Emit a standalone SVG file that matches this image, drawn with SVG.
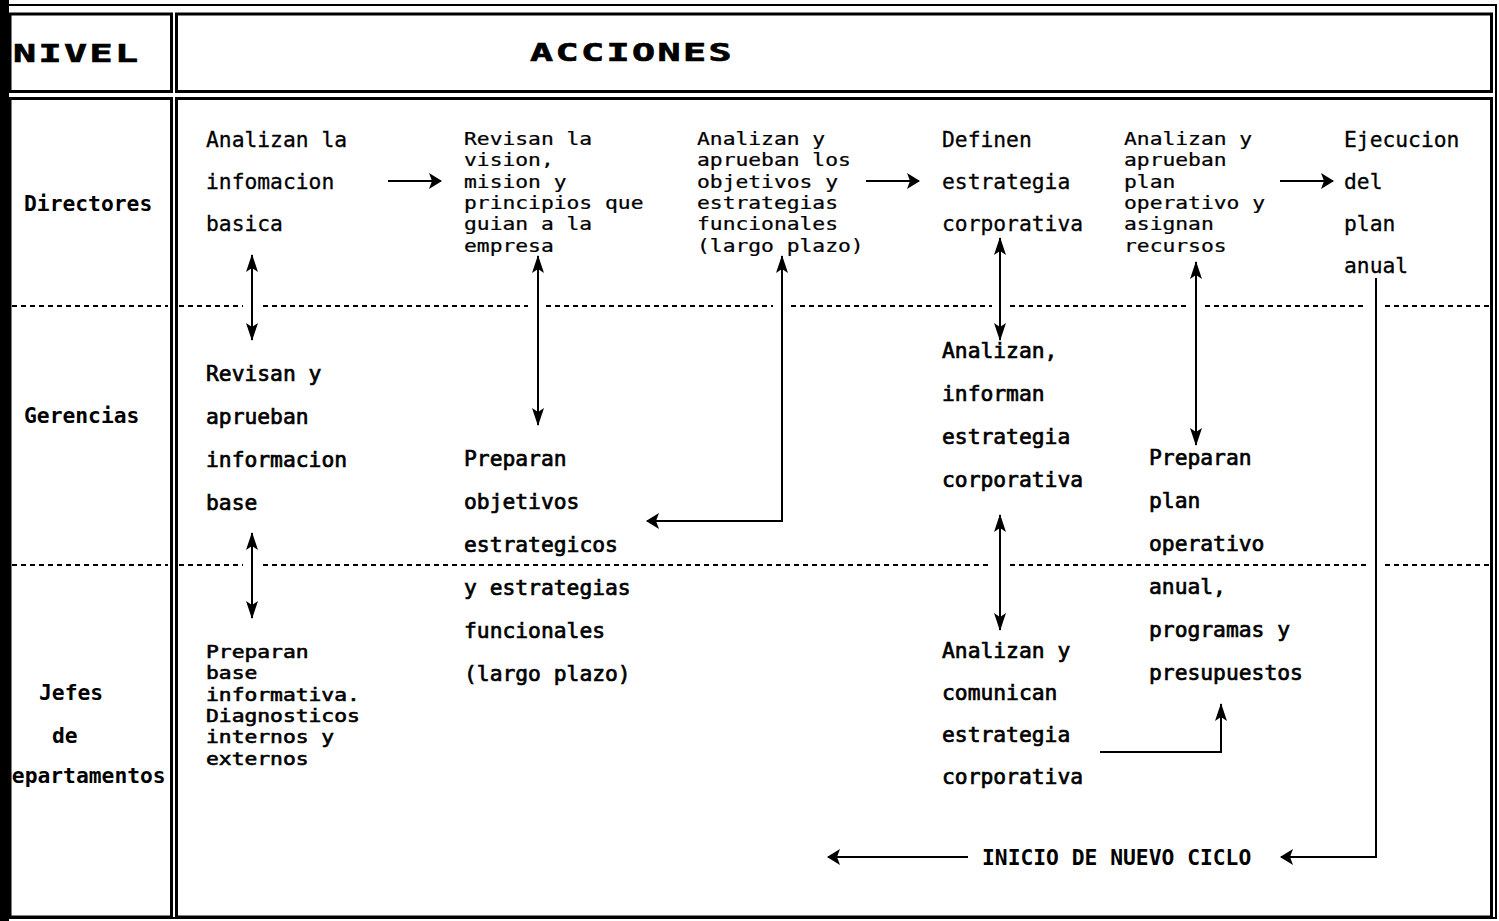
<svg xmlns="http://www.w3.org/2000/svg" width="1499" height="921" viewBox="0 0 1499 921">
<style>
.frame{fill:none;stroke:#000;stroke-width:3}
.thin{fill:none;stroke:#000;stroke-width:2}
.dash{fill:none;stroke:#000;stroke-width:2;stroke-dasharray:5 4}
.t{font-family:"DejaVu Sans Mono","Liberation Mono",monospace;font-size:21.3px;fill:#000;stroke:#000;stroke-width:0.3}
.m{font-family:"DejaVu Sans Mono","Liberation Mono",monospace;font-size:21.3px;fill:#000;stroke:#000;stroke-width:0.7}
.b{font-family:"DejaVu Sans Mono","Liberation Mono",monospace;font-size:21.3px;font-weight:bold;fill:#000}
.h{font-family:"DejaVu Sans Mono","Liberation Mono",monospace;font-size:24px;font-weight:bold;fill:#000;stroke:#000;stroke-width:0.6;letter-spacing:1.5px}
.c path{fill:none;stroke:#000;stroke-width:2}
</style>
<defs>
<marker id="hv" viewBox="0 0 18 12" refX="17" refY="6" markerWidth="18" markerHeight="12" markerUnits="userSpaceOnUse" orient="auto-start-reverse"><path d="M0,0 L18,6 L0,12 L4,6 z" fill="#000"/></marker>
<marker id="hh" viewBox="0 0 13 16" refX="12" refY="8" markerWidth="13" markerHeight="16" markerUnits="userSpaceOnUse" orient="auto-start-reverse"><path d="M0,0 L13,8 L0,16 L3,8 z" fill="#000"/></marker>
</defs>
<rect width="1499" height="921" fill="#fff"/>

<g id="frame">
<rect x="-2" y="5" width="1498" height="913" class="thin"/>
<rect x="10" y="14" width="161.5" height="77.5" class="frame"/>
<rect x="176.5" y="14" width="1315" height="77.5" class="frame"/>
<rect x="10" y="98.5" width="161.5" height="818.5" class="frame"/>
<rect x="176.5" y="98.5" width="1315" height="818.5" class="frame"/>
<path class="dash" d="M12,306 H168 M179,306 H243 M263,306 H528 M546,306 H773 M791,306 H992 M1010,306 H1187 M1205,306 H1367 M1385,306 H1489"/>
<path class="dash" d="M12,565 H168 M179,565 H243 M263,565 H992 M1010,565 H1367 M1385,565 H1489"/>
</g>

<g id="header">
<text class="h" transform="translate(13,62) scale(1.6,1)">NIVEL</text>
<text class="h" transform="translate(530,61) scale(1.6,1)">ACCIONES</text>
</g>

<g id="levels">
<text class="b" x="24" y="211">Directores</text>
<text class="b" x="24" y="423">Gerencias</text>
<text class="b" x="39" y="700">Jefes</text>
<text class="b" x="52" y="743">de</text>
<text class="b" x="-1" y="783">Departamentos</text>
</g>

<g id="n1"><text class="t" x="206" y="147"><tspan x="206">Analizan la</tspan><tspan x="206" dy="42">infomacion</tspan><tspan x="206" dy="42">basica</tspan></text></g>
<g id="n2"><text class="t" transform="translate(464,145) scale(1,0.82)"><tspan x="0" y="0">Revisan la</tspan><tspan x="0" dy="26">vision,</tspan><tspan x="0" dy="26">mision y</tspan><tspan x="0" dy="26">principios que</tspan><tspan x="0" dy="26">guian a la</tspan><tspan x="0" dy="26">empresa</tspan></text></g>
<g id="n3"><text class="t" transform="translate(697,145) scale(1,0.82)"><tspan x="0" y="0">Analizan y</tspan><tspan x="0" dy="26">aprueban los</tspan><tspan x="0" dy="26">objetivos y</tspan><tspan x="0" dy="26">estrategias</tspan><tspan x="0" dy="26">funcionales</tspan><tspan x="0" dy="26">(largo plazo)</tspan></text></g>
<g id="n4"><text class="t" x="942" y="147"><tspan x="942">Definen</tspan><tspan x="942" dy="42">estrategia</tspan><tspan x="942" dy="42">corporativa</tspan></text></g>
<g id="n5"><text class="t" transform="translate(1124,145) scale(1,0.82)"><tspan x="0" y="0">Analizan y</tspan><tspan x="0" dy="26">aprueban</tspan><tspan x="0" dy="26">plan</tspan><tspan x="0" dy="26">operativo y</tspan><tspan x="0" dy="26">asignan</tspan><tspan x="0" dy="26">recursos</tspan></text></g>
<g id="n6"><text class="t" x="1344" y="147"><tspan x="1344">Ejecucion</tspan><tspan x="1344" dy="42">del</tspan><tspan x="1344" dy="42">plan</tspan><tspan x="1344" dy="42">anual</tspan></text></g>

<g id="n7"><text class="m" x="206" y="381"><tspan x="206">Revisan y</tspan><tspan x="206" dy="43">aprueban</tspan><tspan x="206" dy="43">informacion</tspan><tspan x="206" dy="43">base</tspan></text></g>
<g id="n8"><text class="m" x="464" y="466"><tspan x="464">Preparan</tspan><tspan x="464" dy="43">objetivos</tspan><tspan x="464" dy="43">estrategicos</tspan><tspan x="464" dy="43">y estrategias</tspan><tspan x="464" dy="43">funcionales</tspan><tspan x="464" dy="43">(largo plazo)</tspan></text></g>
<g id="n9"><text class="m" x="942" y="358"><tspan x="942">Analizan,</tspan><tspan x="942" dy="43">informan</tspan><tspan x="942" dy="43">estrategia</tspan><tspan x="942" dy="43">corporativa</tspan></text></g>
<g id="n10"><text class="m" x="1149" y="465"><tspan x="1149">Preparan</tspan><tspan x="1149" dy="43">plan</tspan><tspan x="1149" dy="43">operativo</tspan><tspan x="1149" dy="43">anual,</tspan><tspan x="1149" dy="43">programas y</tspan><tspan x="1149" dy="43">presupuestos</tspan></text></g>

<g id="n11"><text class="m" transform="translate(206,658) scale(1,0.82)"><tspan x="0" y="0">Preparan</tspan><tspan x="0" dy="26">base</tspan><tspan x="0" dy="26">informativa.</tspan><tspan x="0" dy="26">Diagnosticos</tspan><tspan x="0" dy="26">internos y</tspan><tspan x="0" dy="26">externos</tspan></text></g>
<g id="n12"><text class="m" x="942" y="658"><tspan x="942">Analizan y</tspan><tspan x="942" dy="42">comunican</tspan><tspan x="942" dy="42">estrategia</tspan><tspan x="942" dy="42">corporativa</tspan></text></g>
<g id="n13"><text class="b" x="982" y="865">INICIO DE NUEVO CICLO</text></g>

<g id="connectors" class="c">
<path d="M388,181 H441" marker-end="url(#hh)"/>
<path d="M866,181 H919" marker-end="url(#hh)"/>
<path d="M1280,181 H1333" marker-end="url(#hh)"/>
<path d="M252,255 V340" marker-start="url(#hv)" marker-end="url(#hv)"/>
<path d="M538,256 V425" marker-start="url(#hv)" marker-end="url(#hv)"/>
<path d="M782,256 V521 H647" marker-start="url(#hv)" marker-end="url(#hh)"/>
<path d="M1000,238 V340" marker-start="url(#hv)" marker-end="url(#hv)"/>
<path d="M1196,262 V445" marker-start="url(#hv)" marker-end="url(#hv)"/>
<path d="M252,533 V618" marker-start="url(#hv)" marker-end="url(#hv)"/>
<path d="M1000,515 V630" marker-start="url(#hv)" marker-end="url(#hv)"/>
<path d="M1100,752 H1221 V704" marker-end="url(#hv)"/>
<path d="M1376,278 V857 H1281" marker-end="url(#hh)"/>
<path d="M968,857 H828" marker-end="url(#hh)"/>
</g>

<rect id="bar" x="0" y="0" width="9" height="921" fill="#000"/>
</svg>
